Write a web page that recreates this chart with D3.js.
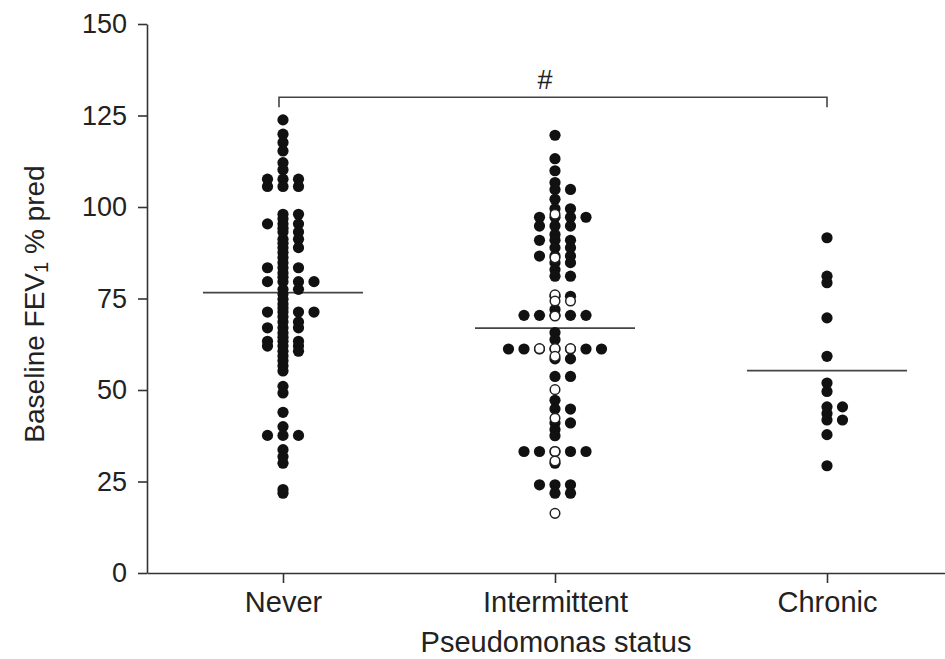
<!DOCTYPE html>
<html>
<head>
<meta charset="utf-8">
<script src="https://cdn.jsdelivr.net/npm/d3@7"></script>
<style>
    body { margin: 0; background: #fff; }
    text { font-family: "Liberation Sans", Arial, sans-serif; fill: #222; }
</style>
</head>
<body>
<svg id="chart" width="945" height="659"></svg>
<script>
// data
let categories = ["Never", "Intermittent", "Chronic"];
let yTicks = [0, 25, 50, 75, 100, 125, 150];

// repeated values sit side by side in one row
let neverValues = [
    123.8, 119.9, 117.6, 115.3, 112.1, 110.2,
    107.6, 107.6, 107.6, 105.6, 105.6, 105.6,
    98, 98, 96.8, 95.4, 95.4, 95.4, 94.2, 93.2, 93.2, 91.2, 91.2, 90.1,
    88.9, 88.9, 87.6, 86.2, 84.8, 83.4, 83.4, 83.4, 82, 80.8,
    79.6, 79.6, 79.6, 79.6, 77.5, 77.5, 76.2, 74.8, 73.5, 72.4,
    71.3, 71.3, 71.3, 71.3, 70, 68.6, 68.6, 67, 67, 67, 65.6, 64.4,
    63.3, 63.3, 63.3, 62, 62, 62, 60.6, 60.6, 59.3, 58, 56.6, 55.2,
    51, 49.2, 43.9, 40, 37.6, 37.6, 37.6, 33.7, 31.8, 30, 22.8, 21.8
];
let intermittentFilled = [
    119.6, 113.2, 109.9, 106.7, 104.8, 104.8, 102.1, 99.5, 99.5,
    97.2, 97.2, 97.2, 97.2, 94.8, 94.8, 94.8, 92.5, 90.9, 90.9, 90.9,
    88.9, 88.9, 86.6, 86.6, 86.6, 84.8, 84.8, 82.9, 81.1, 81.1,
    75.6, 75.6, 72, 70.4, 70.4, 70.4, 70.4, 70.4,
    65.7, 63.8, 61.2, 61.2, 61.2, 61.2, 61.2, 61.2, 61.2, 58.5, 58.5,
    53.7, 53.7, 47.2, 44.8, 44.8, 41, 41, 39.2, 37.5,
    33.2, 33.2, 33.2, 33.2, 33.2, 30, 24.1, 24.1, 24.1, 21.8, 21.8
];
let intermittentOpen = [
    98, 86.1, 76, 74.3, 74.3, 70.2, 61.3, 61.3, 61.3, 59.2,
    50.1, 42.3, 33.2, 30.6, 16.3
];
let chronicValues = [
    91.6, 81.1, 79.3, 69.7, 59.2, 51.9, 49.6, 45.4, 45.4,
    43.6, 41.8, 41.8, 37.8, 29.3
];
let medians = [76.6, 66.9, 55.3];
let bracketLevel = 130;

let svg = d3.select("#chart");
let dotR = 5.6, colStep = 15.5, medianHalf = 80;

let x = d3.scalePoint()
    .domain(categories)
    .range([147, 963])
    .padding(0.5);

let y = d3.scaleLinear()
    .domain([0, 150])
    .range([573, 24]);

// spread tied values across columns: 0, +1, -1, +2, -2 ...
function swarm(values, category) {
    let counts = new Map();
    let order = [0, 1, -1, 2, -2, 3, -3, 4, -4];
    return values.map(function (v) {
        let k = counts.get(v) || 0;
        counts.set(v, k + 1);
        return {cx: x(category) + order[k] * colStep, cy: y(v)};
    });
}

function drawAxes() {
    let yAxis = svg.append("g")
        .attr("transform", "translate(147,0)")
        .call(d3.axisLeft(y).tickValues(yTicks).tickSize(9).tickSizeOuter(0).tickPadding(11));
    yAxis.selectAll("text").style("font-size", "27px");
    yAxis.select(".domain").attr("stroke", "#333").attr("stroke-width", 1.6);
    yAxis.selectAll(".tick line").attr("stroke", "#333").attr("stroke-width", 1.6);

    let xAxis = svg.append("g")
        .attr("transform", "translate(0,573)")
        .call(d3.axisBottom(x).tickSize(10).tickSizeOuter(0).tickPadding(8));
    xAxis.selectAll("text").style("font-size", "29px");
    xAxis.select(".domain").attr("stroke", "#333").attr("stroke-width", 1.6);
    xAxis.selectAll(".tick line").attr("stroke", "#333").attr("stroke-width", 1.6);

    svg.append("text")
        .attr("x", 556)
        .attr("y", 652)
        .attr("text-anchor", "middle")
        .style("font-size", "29px")
        .text("Pseudomonas status");

    let title = svg.append("text")
        .attr("transform", "translate(44,304) rotate(-90)")
        .attr("text-anchor", "middle")
        .style("font-size", "28px");
    title.append("tspan").text("Baseline FEV");
    title.append("tspan").attr("baseline-shift", "-20%").style("font-size", "20px").text("1");
    title.append("tspan").text(" % pred");
}

function drawDots() {
    let filled = swarm(neverValues, "Never")
        .concat(swarm(intermittentFilled, "Intermittent"))
        .concat(swarm(chronicValues, "Chronic"));
    svg.append("g").selectAll("circle")
        .data(filled)
        .enter()
        .append("circle")
        .attr("cx", function (d) { return d.cx; })
        .attr("cy", function (d) { return d.cy; })
        .attr("r", dotR)
        .attr("fill", "#111");

    svg.append("g").selectAll("circle")
        .data(swarm(intermittentOpen, "Intermittent"))
        .enter()
        .append("circle")
        .attr("cx", function (d) { return d.cx; })
        .attr("cy", function (d) { return d.cy; })
        .attr("r", dotR - 0.8)
        .attr("fill", "#fff")
        .attr("stroke", "#222")
        .attr("stroke-width", 1.5);
}

function drawMedians() {
    svg.append("g").selectAll("line")
        .data(medians)
        .enter()
        .append("line")
        .attr("x1", function (d, i) { return x(categories[i]) - medianHalf; })
        .attr("x2", function (d, i) { return x(categories[i]) + medianHalf; })
        .attr("y1", function (d) { return y(d); })
        .attr("y2", function (d) { return y(d); })
        .attr("stroke", "#444")
        .attr("stroke-width", 1.6);
}

function drawBracket() {
    let x1 = x("Never") - 4, x2 = x("Chronic"), by = y(bracketLevel);
    svg.append("path")
        .attr("d", "M" + x1 + "," + (by + 10) + "V" + by + "H" + x2 + "V" + (by + 10))
        .attr("fill", "none")
        .attr("stroke", "#444")
        .attr("stroke-width", 1.6);
    svg.append("text")
        .attr("x", (x1 + x2) / 2 - 8)
        .attr("y", by - 8)
        .attr("text-anchor", "middle")
        .style("font-size", "27px")
        .text("#");
}

drawAxes();
drawMedians();
drawDots();
drawBracket();
</script>
</body>
</html>
